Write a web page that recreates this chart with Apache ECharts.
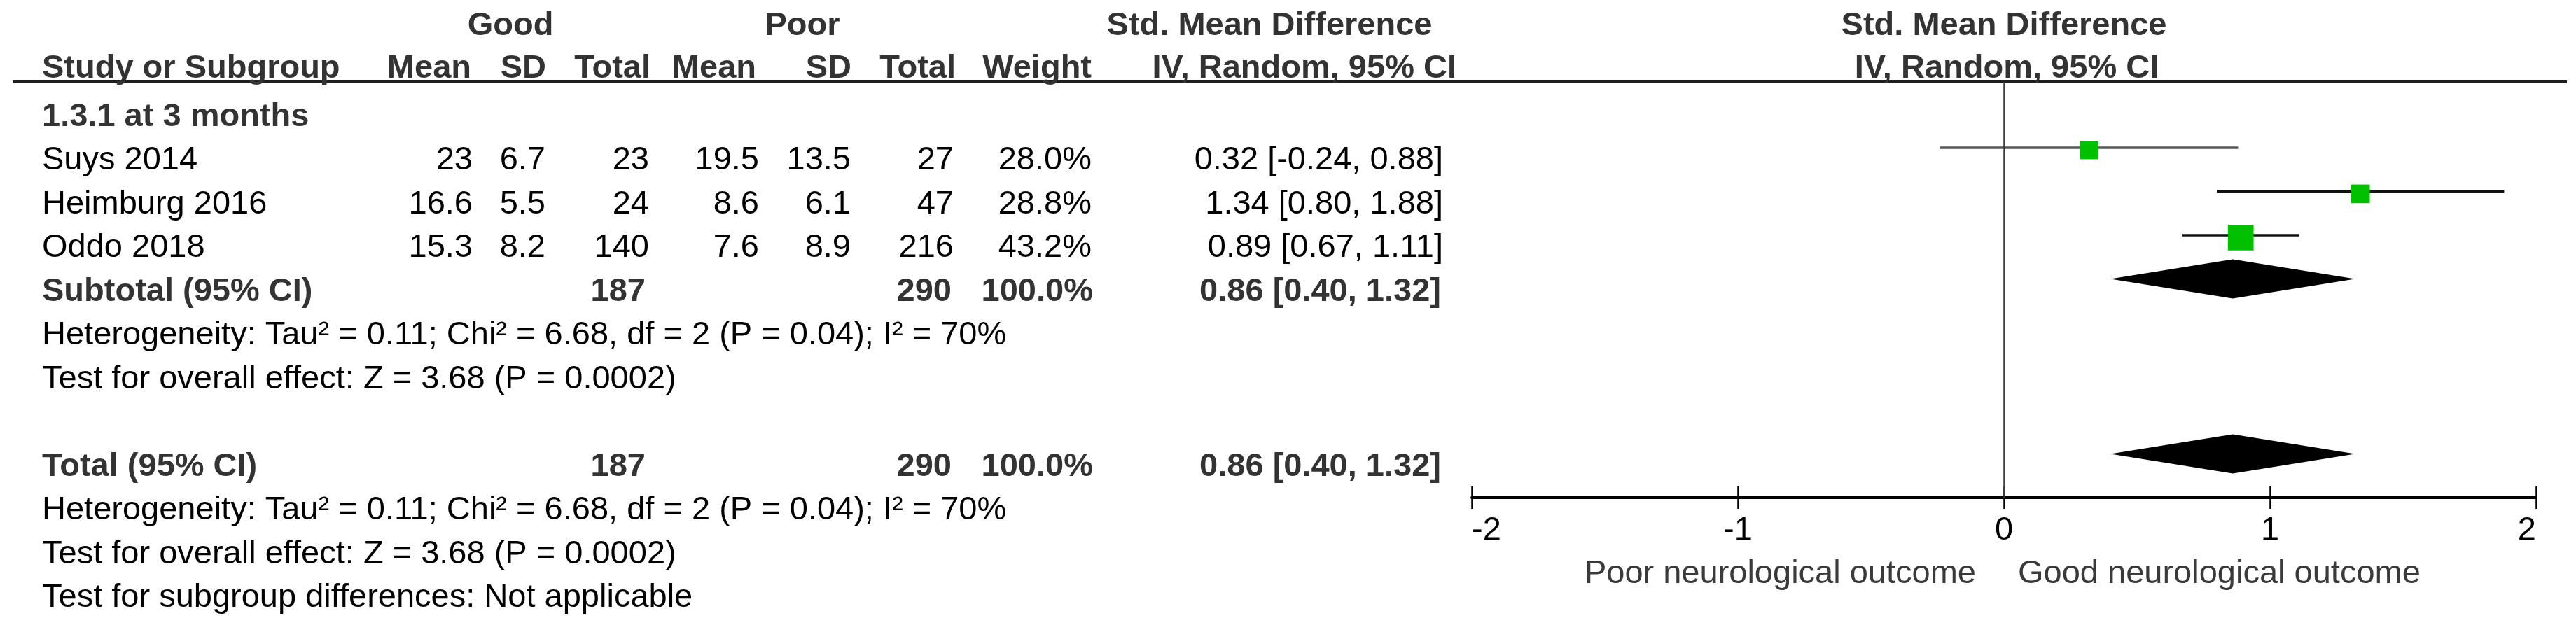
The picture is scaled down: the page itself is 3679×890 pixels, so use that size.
<!DOCTYPE html>
<html>
<head>
<meta charset="utf-8">
<script src="https://cdn.jsdelivr.net/npm/echarts@6/dist/echarts.min.js"></script>
<style>
html,body{margin:0;padding:0;background:#fff;}
#chart{width:3679px;height:890px;}
</style>
</head>
<body>
<div id="chart"></div>
<script>
// ---------------- data ----------------
const studies   = ['Suys 2014', 'Heimburg 2016', 'Oddo 2018'];
const goodMean  = [23, 16.6, 15.3];
const goodSD    = [6.7, 5.5, 8.2];
const goodTotal = [23, 24, 140];
const poorMean  = [19.5, 8.6, 7.6];
const poorSD    = [13.5, 6.1, 8.9];
const poorTotal = [27, 47, 216];
const weights   = [28.0, 28.8, 43.2];
const smd       = [0.32, 1.34, 0.89];
const ciLow     = [-0.24, 0.80, 0.67];
const ciHigh    = [0.88, 1.88, 1.11];
const pooledLabels = ['Subtotal (95% CI)', 'Total (95% CI)'];
const pooledSMD    = [0.86, 0.86];
const pooledLow    = [0.40, 0.40];
const pooledHigh   = [1.32, 1.32];
const pooledGood   = [187, 187];
const pooledPoor   = [290, 290];
const pooledWeight = [100.0, 100.0];
const xTicks = [-2, -1, 0, 1, 2];
const subgroupTitle = '1.3.1 at 3 months';
const hetText  = 'Heterogeneity: Tau\u00b2 = 0.11; Chi\u00b2 = 6.68, df = 2 (P = 0.04); I\u00b2 = 70%';
const testText = 'Test for overall effect: Z = 3.68 (P = 0.0002)';
const subgroupDiffText = 'Test for subgroup differences: Not applicable';
const leftAxisLabel  = 'Poor neurological outcome';
const rightAxisLabel = 'Good neurological outcome';

// ---------------- layout ----------------
const FONT = "'Liberation Sans', Arial, Helvetica, sans-serif";
const FS = 47;
const ROW0 = 164, PITCH = 62.5;     // row 0 text centre, row spacing (px)
const TEXT_DY = 3;
const GRID_TOP = 117, GRID_BOTTOM = 711;
const PLOT_L = 2102, PLOT_R = 3622;
const MARK_SHIFT = -0.25;           // markers sit slightly above text centre
const HEAD_Y1 = 37, HEAD_Y2 = 98;
const COL = {name:60, gM:675, gSD:779, gT:927, pM:1084, pSD:1215, pT:1362, w:1559, ci:2061};
const ciColors = ['#555555', '#111111', '#111111'];
const BOLD_COLOR = '#333333';

const yMin = (GRID_TOP - ROW0) / PITCH;
const yMax = (GRID_BOTTOM - ROW0) / PITCH;

const chart = echarts.init(document.getElementById('chart'), null, {renderer:'canvas'});

const studyData = studies.map((s, i) => [smd[i], ciLow[i], ciHigh[i], weights[i], i + 1, i]);
const pooledData = pooledSMD.map((v, i) => [v, pooledLow[i], pooledHigh[i], i === 0 ? 4 : 8]);

const option = {
  animation: false,
  backgroundColor: '#ffffff',
  grid: {left: PLOT_L, width: PLOT_R - PLOT_L, top: GRID_TOP, height: GRID_BOTTOM - GRID_TOP, containLabel: false, show: false},
  xAxis: [
    {
      type: 'value', min: xTicks[0], max: xTicks[xTicks.length - 1], interval: 1, position: 'bottom',
      axisLine: {show: true, onZero: false, lineStyle: {color: '#000', width: 4}},
      axisTick: {show: true, inside: false, length: 16, lineStyle: {color: '#000', width: 2.5}},
      axisLabel: {show: true, fontSize: FS, fontFamily: FONT, color: '#000', margin: 24,
                  alignMinLabel: 'left', alignMaxLabel: 'right',
                  formatter: v => String(v)},
      splitLine: {show: false}
    },
    {
      type: 'value', min: xTicks[0], max: xTicks[xTicks.length - 1], interval: 1, position: 'bottom',
      axisLine: {show: false, onZero: false},
      axisTick: {show: true, inside: true, length: 16, lineStyle: {color: '#000', width: 2.5}},
      axisLabel: {show: false},
      splitLine: {show: false}
    }
  ],
  yAxis: {type: 'value', inverse: true, min: yMin, max: yMax, show: false},
  series: [
    {
      type: 'custom',
      xAxisIndex: 0,
      data: studyData,
      clip: false,
      renderItem: function (params, api) {
        const c = api.value(0), lo = api.value(1), hi = api.value(2), w = api.value(3), row = api.value(4), idx = api.value(5);
        const yv = row + MARK_SHIFT;
        const pL = api.coord([lo, yv]), pH = api.coord([hi, yv]), pC = api.coord([c, yv]);
        const side = 0.7 * w + 6.5;
        return {
          type: 'group',
          children: [
            {type: 'line', shape: {x1: pL[0], y1: pL[1], x2: pH[0], y2: pH[1]}, style: {stroke: ciColors[idx], lineWidth: 3.5}},
            {type: 'rect', shape: {x: pC[0] - side / 2, y: pC[1] - side / 2 + 3.5, width: side, height: side}, style: {fill: '#00c000'}}
          ]
        };
      },
      markLine: {
        silent: true, symbol: ['none', 'none'], label: {show: false},
        lineStyle: {color: '#3c3c3c', width: 2.5, type: 'solid'},
        data: [{xAxis: 0}]
      },
      z: 3
    },
    {
      type: 'custom',
      xAxisIndex: 0,
      data: pooledData,
      clip: false,
      renderItem: function (params, api) {
        const c = api.value(0), lo = api.value(1), hi = api.value(2), row = api.value(3);
        const yv = row + MARK_SHIFT;
        const pL = api.coord([lo, yv]), pH = api.coord([hi, yv]), pC = api.coord([c, yv]);
        const hh = 28;
        return {
          type: 'polygon',
          shape: {points: [[pL[0], pL[1]], [pC[0], pC[1] - hh], [pH[0], pH[1]], [pC[0], pC[1] + hh]]},
          style: {fill: '#000'}
        };
      },
      z: 4
    }
  ]
};
chart.setOption(option);

// ---------------- table text ----------------
function rowY(k) { return chart.convertToPixel({yAxisIndex: 0}, k) + TEXT_DY; }
function T(x, y, s, align, bold, color) {
  return {
    type: 'text', silent: true,
    style: {
      text: s, x: x, y: y,
      fontSize: FS, fontFamily: FONT, fontWeight: bold ? 'bold' : 'normal',
      fill: color || (bold ? BOLD_COLOR : '#000'),
      align: align, verticalAlign: 'middle',
      textAlign: align, textVerticalAlign: 'middle'
    }
  };
}
const fmt2 = v => v.toFixed(2);
const ciStr = (c, l, h) => fmt2(c) + ' [' + fmt2(l) + ', ' + fmt2(h) + ']';

const els = [];
// header line
els.push({type: 'line', silent: true, shape: {x1: 18, y1: GRID_TOP, x2: 3666, y2: GRID_TOP}, style: {stroke: '#1e1e1e', lineWidth: 4}});
// header rows
els.push(T(729, HEAD_Y1, 'Good', 'center', true));
els.push(T(1146, HEAD_Y1, 'Poor', 'center', true));
els.push(T(1813, HEAD_Y1, 'Std. Mean Difference', 'center', true));
els.push(T(2862, HEAD_Y1, 'Std. Mean Difference', 'center', true));
els.push(T(COL.name, HEAD_Y2, 'Study or Subgroup', 'left', true));
els.push(T(673, HEAD_Y2, 'Mean', 'right', true));
els.push(T(780, HEAD_Y2, 'SD', 'right', true));
els.push(T(929, HEAD_Y2, 'Total', 'right', true));
els.push(T(1080, HEAD_Y2, 'Mean', 'right', true));
els.push(T(1216, HEAD_Y2, 'SD', 'right', true));
els.push(T(1365, HEAD_Y2, 'Total', 'right', true));
els.push(T(1559, HEAD_Y2, 'Weight', 'right', true));
els.push(T(2080, HEAD_Y2, 'IV, Random, 95% CI', 'right', true));
els.push(T(2866, HEAD_Y2, 'IV, Random, 95% CI', 'center', true));
// subgroup title
els.push(T(COL.name, rowY(0), subgroupTitle, 'left', true));
// studies
studies.forEach((s, i) => {
  const y = rowY(i + 1);
  els.push(T(COL.name, y, s, 'left', false));
  els.push(T(COL.gM, y, String(goodMean[i]), 'right', false));
  els.push(T(COL.gSD, y, String(goodSD[i]), 'right', false));
  els.push(T(COL.gT, y, String(goodTotal[i]), 'right', false));
  els.push(T(COL.pM, y, String(poorMean[i]), 'right', false));
  els.push(T(COL.pSD, y, String(poorSD[i]), 'right', false));
  els.push(T(COL.pT, y, String(poorTotal[i]), 'right', false));
  els.push(T(COL.w, y, weights[i].toFixed(1) + '%', 'right', false));
  els.push(T(COL.ci, y, ciStr(smd[i], ciLow[i], ciHigh[i]), 'right', false));
});
// pooled rows
[4, 8].forEach((r, i) => {
  const y = rowY(r);
  els.push(T(COL.name, y, pooledLabels[i], 'left', true));
  els.push(T(COL.gT - 5, y, String(pooledGood[i]), 'right', true));
  els.push(T(COL.pT - 3, y, String(pooledPoor[i]), 'right', true));
  els.push(T(COL.w + 2, y, pooledWeight[i].toFixed(1) + '%', 'right', true));
  els.push(T(COL.ci - 3, y, ciStr(pooledSMD[i], pooledLow[i], pooledHigh[i]), 'right', true));
  els.push(T(COL.name, rowY(r + 1), hetText, 'left', false));
  els.push(T(COL.name, rowY(r + 2), testText, 'left', false));
});
els.push(T(COL.name, rowY(11), subgroupDiffText, 'left', false));
// axis direction labels
els.push(T(2822, 820, leftAxisLabel, 'right', false, '#3a3a3a'));
els.push(T(2882, 820, rightAxisLabel, 'left', false, '#3a3a3a'));

chart.setOption({graphic: {elements: els}});
</script>
</body>
</html>
